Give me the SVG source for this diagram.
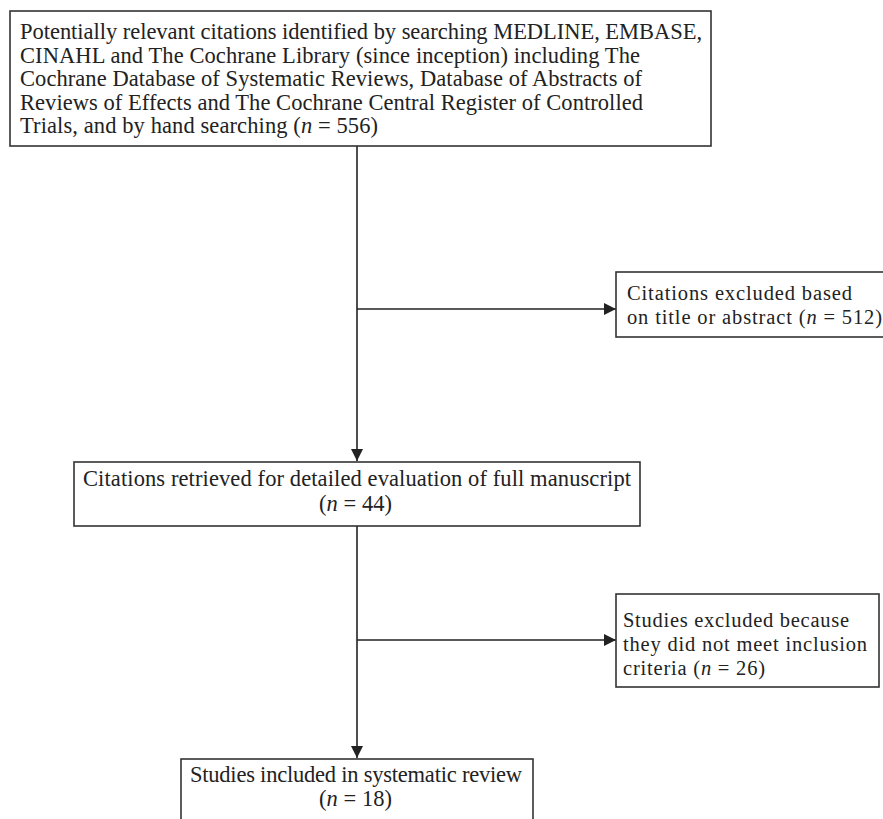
<svg xmlns="http://www.w3.org/2000/svg" width="883" height="819" viewBox="0 0 883 819">
<style>
.box{fill:#fff;stroke:#333;stroke-width:1.6}
.t{font-family:"Liberation Serif","Times New Roman",serif;font-size:22.5px;fill:#222}
.s{font-size:20.5px}
.c{stroke:#222;stroke-width:1.6;fill:none}
</style>
<defs>
<marker id="ah" viewBox="0 0 12 12" refX="12" refY="6" markerWidth="12" markerHeight="12" markerUnits="userSpaceOnUse" orient="auto">
<path d="M0,0 L12,6 L0,12 z" fill="#222"/>
</marker>
</defs>
<rect width="883" height="819" fill="#fff"/>
<g id="connectors">
<line class="c" x1="357" y1="146" x2="357" y2="461" marker-end="url(#ah)"/>
<line class="c" x1="357" y1="309" x2="616" y2="309" marker-end="url(#ah)"/>
<line class="c" x1="357" y1="526" x2="357" y2="758" marker-end="url(#ah)"/>
<line class="c" x1="357" y1="640" x2="616" y2="640" marker-end="url(#ah)"/>
</g>
<g id="n1">
<rect class="box" x="10" y="11" width="701" height="135"/>
<text class="t" x="20" y="39" textLength="682">Potentially relevant citations identified by searching MEDLINE, EMBASE,</text>
<text class="t" x="20" y="63" textLength="620">CINAHL and The Cochrane Library (since inception) including The</text>
<text class="t" x="20" y="86" textLength="622">Cochrane Database of Systematic Reviews, Database of Abstracts of</text>
<text class="t" x="20" y="110" textLength="623">Reviews of Effects and The Cochrane Central Register of Controlled</text>
<text class="t" x="20" y="133" textLength="358">Trials, and by hand searching (<tspan font-style="italic">n</tspan> = 556)</text>
</g>
<g id="n2">
<rect class="box" x="616" y="272" width="280" height="65"/>
<text class="t s" x="627" y="300" textLength="225">Citations excluded based</text>
<text class="t s" x="627" y="324" textLength="255">on title or abstract (<tspan font-style="italic">n</tspan> = 512)</text>
</g>
<g id="n3">
<rect class="box" x="74" y="462" width="566" height="64"/>
<text class="t" x="83" y="486" textLength="548">Citations retrieved for detailed evaluation of full manuscript</text>
<text class="t" x="319" y="511" textLength="73">(<tspan font-style="italic">n</tspan> = 44)</text>
</g>
<g id="n4">
<rect class="box" x="616" y="594" width="263" height="93"/>
<text class="t s" x="623" y="627" textLength="226">Studies excluded because</text>
<text class="t s" x="623" y="651" textLength="244">they did not meet inclusion</text>
<text class="t s" x="623" y="675" textLength="142">criteria (<tspan font-style="italic">n</tspan> = 26)</text>
</g>
<g id="n5">
<rect class="box" x="181" y="759" width="352" height="80"/>
<text class="t" x="190" y="782" textLength="332">Studies included in systematic review</text>
<text class="t" x="319" y="806" textLength="73">(<tspan font-style="italic">n</tspan> = 18)</text>
</g>
</svg>
